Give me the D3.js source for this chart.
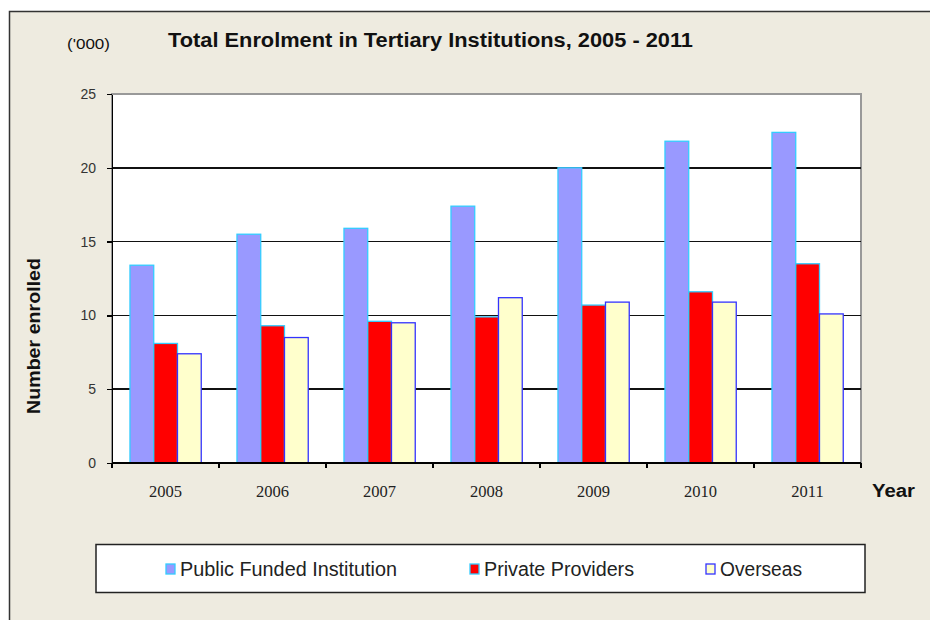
<!doctype html>
<html lang="en">
  <head>
    <meta charset="utf-8">
    <title>Total Enrolment in Tertiary Institutions</title>
    <style>
      body { margin: 0; background: #fff; }
      svg { display: block; font-family: Arial, "Liberation Sans", sans-serif; }
      .axis--y text { font-size: 14px; fill: #333; }
      .axis--x text { font-family: "Times New Roman", "Liberation Serif", serif; font-size: 16.5px; fill: #222; }
      .axis path, .axis line { stroke: #000; stroke-width: 1.3; shape-rendering: crispEdges; }
      .grid line { stroke: #111; stroke-width: 1.5; shape-rendering: crispEdges; }
      .legend text { font-size: 19.5px; fill: #222; }
    </style>
  </head>
  <body>
    <div class="chart"></div>
  <script src="https://d3js.org/d3.v7.min.js"></script>
  <script>
    const years = ['2005', '2006', '2007', '2008', '2009', '2010', '2011'];
    const publicFunded = [13.4, 15.5, 15.9, 17.4, 20.0, 21.8, 22.4];
    const privateProviders = [8.1, 9.3, 9.6, 9.9, 10.7, 11.6, 13.5];
    const overseas = [7.4, 8.5, 9.5, 11.2, 10.9, 10.9, 10.1];
    const yTicks = [0, 5, 10, 15, 20, 25];

    const series = [
      {name: 'Public Funded Institution', values: publicFunded, fill: '#9999ff', stroke: '#33ccff'},
      {name: 'Private Providers', values: privateProviders, fill: '#ff0000', stroke: '#33ccff'},
      {name: 'Overseas', values: overseas, fill: '#ffffcc', stroke: '#3333ff'}
    ];

    const W = 930, H = 620;
    const plot = {left: 112, right: 861, top: 94, bottom: 463};

    const svg = d3.select('.chart').append('svg')
        .attr('width', W)
        .attr('height', H);

    // outer frame
    svg.append('rect')
        .attr('x', 9.5).attr('y', 11.5)
        .attr('width', W + 20).attr('height', H + 20)
        .attr('fill', '#eeebe0')
        .attr('stroke', '#333').attr('stroke-width', 1.5);

    const xScale = d3.scaleBand()
        .domain(years)
        .range([plot.left, plot.right]);

    const yScale = d3.scaleLinear()
        .domain([0, 25])
        .range([plot.bottom, plot.top]);

    // plot area
    svg.append('rect')
        .attr('x', plot.left).attr('y', plot.top)
        .attr('width', plot.right - plot.left)
        .attr('height', plot.bottom - plot.top)
        .attr('fill', '#fff')
        .attr('stroke', '#999').attr('stroke-width', 2);

    svg.append('g')
        .attr('class', 'grid')
      .selectAll('line')
      .data(yTicks.filter(d => d > 0 && d < 25))
      .enter().append('line')
        .attr('x1', plot.left).attr('x2', plot.right)
        .attr('y1', d => yScale(d)).attr('y2', d => yScale(d));

    // bars
    const bw = xScale.bandwidth();
    const barW = bw * 0.222;
    const offset = bw * 0.168;

    series.forEach((s, si) => {
      svg.append('g')
        .selectAll('rect')
        .data(s.values)
        .enter().append('rect')
          .attr('x', (d, i) => xScale(years[i]) + offset + si * barW)
          .attr('y', d => yScale(d))
          .attr('width', barW)
          .attr('height', d => yScale(0) - yScale(d))
          .attr('fill', s.fill)
          .attr('stroke', s.stroke)
          .attr('stroke-width', 1.3);
    });

    // y axis
    svg.append('g')
        .attr('class', 'axis axis--y')
        .attr('transform', `translate(${plot.left},0)`)
        .call(d3.axisLeft(yScale).tickValues(yTicks).tickSize(5).tickPadding(11).tickSizeOuter(0));

    // x axis: ticks on category boundaries
    const xAxis = svg.append('g')
        .attr('class', 'axis axis--x')
        .attr('transform', `translate(0,${plot.bottom})`);
    xAxis.append('line')
        .attr('x1', plot.left).attr('x2', plot.right);
    xAxis.selectAll('.tk')
      .data(years.concat(['end']))
      .enter().append('line')
        .attr('class', 'tk')
        .attr('x1', (d, i) => i < years.length ? xScale(d) : plot.right)
        .attr('x2', (d, i) => i < years.length ? xScale(d) : plot.right)
        .attr('y1', 0).attr('y2', 5);
    xAxis.selectAll('text')
      .data(years)
      .enter().append('text')
        .attr('x', d => xScale(d) + bw / 2)
        .attr('y', 34)
        .attr('text-anchor', 'middle')
        .text(d => d);

    // texts
    svg.append('text')
        .attr('x', 168).attr('y', 47)
        .attr('font-size', 20).attr('font-weight', 'bold').attr('fill', '#111')
        .attr('textLength', 525).attr('lengthAdjust', 'spacingAndGlyphs')
        .text('Total Enrolment in Tertiary Institutions, 2005 - 2011');

    svg.append('text')
        .attr('x', 67).attr('y', 49)
        .attr('font-size', 14).attr('fill', '#111')
        .attr('textLength', 43).attr('lengthAdjust', 'spacingAndGlyphs')
        .text("('000)");

    svg.append('text')
        .attr('transform', 'translate(40,336) rotate(-90)')
        .attr('text-anchor', 'middle')
        .attr('font-size', 18).attr('font-weight', 'bold').attr('fill', '#111')
        .attr('textLength', 156).attr('lengthAdjust', 'spacingAndGlyphs')
        .text('Number enrolled');

    svg.append('text')
        .attr('x', 872).attr('y', 497)
        .attr('font-size', 18).attr('font-weight', 'bold').attr('fill', '#111')
        .attr('textLength', 43).attr('lengthAdjust', 'spacingAndGlyphs')
        .text('Year');

    // legend
    const legend = svg.append('g').attr('class', 'legend');
    legend.append('rect')
        .attr('x', 96).attr('y', 544.5)
        .attr('width', 769).attr('height', 48)
        .attr('fill', '#fff')
        .attr('stroke', '#222').attr('stroke-width', 1.5);

    const legendX = [166, 470, 706];
    const legendLen = [217, 150, 82];
    const items = legend.selectAll('.item')
      .data(series)
      .enter().append('g')
        .attr('class', 'item')
        .attr('transform', (d, i) => `translate(${legendX[i]},569)`);
    items.append('rect')
        .attr('x', 0).attr('y', -5)
        .attr('width', 9).attr('height', 10)
        .attr('fill', d => d.fill)
        .attr('stroke', d => d.stroke)
        .attr('stroke-width', 1.3);
    items.append('text')
        .attr('x', 14).attr('y', 7)
        .attr('textLength', (d, i) => legendLen[i])
        .attr('lengthAdjust', 'spacingAndGlyphs')
        .text(d => d.name);
  </script>
  </body>
</html>
